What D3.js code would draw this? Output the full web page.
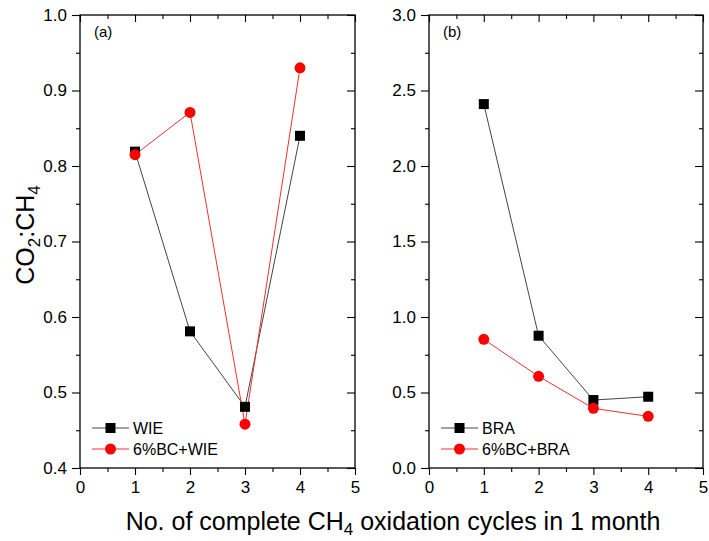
<!DOCTYPE html>
<html>
<head>
<meta charset="utf-8">
<script src="https://cdn.jsdelivr.net/npm/d3@7"></script>
<style>
  body { margin: 0; background: #fff; }
  svg { font-family: "Liberation Sans", Arial, sans-serif; }
</style>
</head>
<body>
<script>
// cycles on the x axis
var cycles = [1, 2, 3, 4];

// panel (a)
var wie = [0.819, 0.581, 0.481, 0.840];
var bcWie = [0.815, 0.871, 0.458, 0.930];

// panel (b)
var bra = [2.41, 0.876, 0.45, 0.472];
var bcBra = [0.852, 0.607, 0.395, 0.342];

var xTicks = [0, 1, 2, 3, 4, 5];
var yTicksA = [0.4, 0.5, 0.6, 0.7, 0.8, 0.9, 1.0];
var yTicksB = [0.0, 0.5, 1.0, 1.5, 2.0, 2.5, 3.0];

var w = 709, h = 541;
var svg = d3.select("body").append("svg")
	.attr("width", w)
	.attr("height", h);

var plotTop = 15, plotBottom = 468;

function drawPanel(x0, x1, yDomain, yTicks, yMinor, s1, s2, name1, name2, tag) {
	var x = d3.scaleLinear().domain([0, 5]).range([x0, x1]);
	var y = d3.scaleLinear().domain(yDomain).range([plotBottom, plotTop]);
	var g = svg.append("g");

	// frame
	g.append("rect")
		.attr("x", x0).attr("y", plotTop)
		.attr("width", x1 - x0).attr("height", plotBottom - plotTop)
		.attr("fill", "none").attr("stroke", "#000").attr("stroke-width", 1.3);

	// bottom axis
	var xb = g.append("g").attr("transform", "translate(0," + plotBottom + ")")
		.call(d3.axisBottom(x).tickValues(xTicks).tickSize(7).tickPadding(6).tickFormat(d3.format("d")));
	xb.select(".domain").remove();
	xb.selectAll("text").attr("font-size", 17).attr("font-family", "Liberation Sans, Arial, sans-serif").attr("fill", "#000");
	g.append("g").attr("transform", "translate(0," + plotBottom + ")")
		.call(d3.axisBottom(x).tickValues(d3.range(0.5, 5, 1)).tickSize(4).tickFormat(""))
		.select(".domain").remove();

	// top axis, ticks inward
	g.append("g").attr("transform", "translate(0," + plotTop + ")")
		.call(d3.axisBottom(x).tickValues(xTicks).tickSize(7).tickFormat(""))
		.select(".domain").remove();
	g.append("g").attr("transform", "translate(0," + plotTop + ")")
		.call(d3.axisBottom(x).tickValues(d3.range(0.5, 5, 1)).tickSize(4).tickFormat(""))
		.select(".domain").remove();

	// left axis
	var yl = g.append("g").attr("transform", "translate(" + x0 + ",0)")
		.call(d3.axisLeft(y).tickValues(yTicks).tickSize(8).tickPadding(5).tickFormat(d3.format(".1f")));
	yl.select(".domain").remove();
	yl.selectAll("text").attr("font-size", 17).attr("font-family", "Liberation Sans, Arial, sans-serif").attr("fill", "#000");
	g.append("g").attr("transform", "translate(" + x0 + ",0)")
		.call(d3.axisLeft(y).tickValues(yMinor).tickSize(4).tickFormat(""))
		.select(".domain").remove();

	// right axis, ticks inward
	g.append("g").attr("transform", "translate(" + x1 + ",0)")
		.call(d3.axisLeft(y).tickValues(yTicks).tickSize(8).tickFormat(""))
		.select(".domain").remove();
	g.append("g").attr("transform", "translate(" + x1 + ",0)")
		.call(d3.axisLeft(y).tickValues(yMinor).tickSize(4).tickFormat(""))
		.select(".domain").remove();

	g.selectAll(".tick line").attr("stroke", "#000").attr("stroke-width", 1.1);

	var line = d3.line()
		.x(function(d, i) { return x(cycles[i]); })
		.y(function(d) { return y(d); });

	// black series
	g.append("path").datum(s1)
		.attr("d", line).attr("fill", "none").attr("stroke", "#444").attr("stroke-width", 1);
	// red series
	g.append("path").datum(s2)
		.attr("d", line).attr("fill", "none").attr("stroke", "#f03030").attr("stroke-width", 1);

	g.selectAll(".sq").data(s1).enter().append("rect")
		.attr("x", function(d, i) { return x(cycles[i]) - 5; })
		.attr("y", function(d) { return y(d) - 5; })
		.attr("width", 10).attr("height", 10)
		.attr("fill", "#000");

	g.selectAll(".ci").data(s2).enter().append("circle")
		.attr("cx", function(d, i) { return x(cycles[i]); })
		.attr("cy", function(d) { return y(d); })
		.attr("r", 5.5)
		.attr("fill", "#f00");

	// panel tag
	g.append("text").attr("x", x0 + 14).attr("y", plotTop + 22)
		.attr("font-size", 15).text(tag);

	// legend
	var lx = x0 + 12, ly1 = 428, ly2 = 449;
	g.append("line").attr("x1", lx).attr("x2", lx + 37).attr("y1", ly1).attr("y2", ly1)
		.attr("stroke", "#444").attr("stroke-width", 1);
	g.append("rect").attr("x", lx + 13.5).attr("y", ly1 - 5).attr("width", 10).attr("height", 10).attr("fill", "#000");
	g.append("text").attr("x", lx + 41).attr("y", ly1 + 6).attr("font-size", 16).text(name1);
	g.append("line").attr("x1", lx).attr("x2", lx + 37).attr("y1", ly2).attr("y2", ly2)
		.attr("stroke", "#f03030").attr("stroke-width", 1);
	g.append("circle").attr("cx", lx + 18.5).attr("cy", ly2).attr("r", 5.5).attr("fill", "#f00");
	g.append("text").attr("x", lx + 41).attr("y", ly2 + 6).attr("font-size", 16).text(name2);
}

drawPanel(80, 355, [0.4, 1.0], yTicksA, d3.range(0.45, 1.0, 0.1),
	wie, bcWie, "WIE", "6%BC+WIE", "(a)");
drawPanel(429, 703, [0, 3.0], yTicksB, d3.range(0.25, 3.0, 0.5),
	bra, bcBra, "BRA", "6%BC+BRA", "(b)");

// y axis title
var yTitle = svg.append("text")
	.attr("transform", "translate(34,235) rotate(-90)")
	.attr("text-anchor", "middle")
	.attr("font-size", 25);
yTitle.append("tspan").text("CO");
yTitle.append("tspan").attr("font-size", 17).attr("dy", 6).text("2");
yTitle.append("tspan").attr("dy", -6).text(":CH");
yTitle.append("tspan").attr("font-size", 17).attr("dy", 6).text("4");

// x axis title
var xTitle = svg.append("text")
	.attr("x", 393).attr("y", 530)
	.attr("text-anchor", "middle")
	.attr("font-size", 25);
xTitle.append("tspan").text("No. of complete CH");
xTitle.append("tspan").attr("font-size", 17).attr("dy", 5).text("4");
xTitle.append("tspan").attr("dy", -5).text(" oxidation cycles in 1 month");
</script>
</body>
</html>
